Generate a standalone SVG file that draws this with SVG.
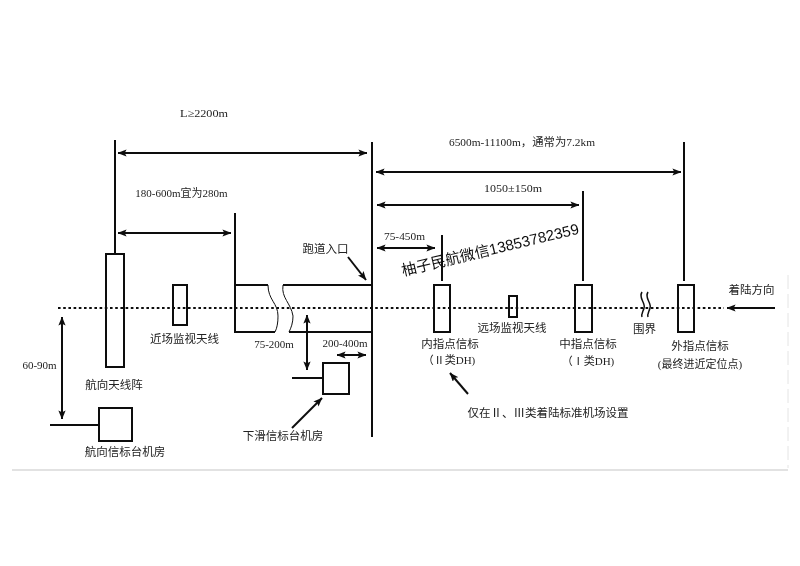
<svg xmlns="http://www.w3.org/2000/svg" width="800" height="566" viewBox="0 0 800 566">
<defs>
<marker id="a" viewBox="0 0 10 8" refX="9.5" refY="4" markerUnits="userSpaceOnUse" markerWidth="9" markerHeight="7.200" orient="auto-start-reverse"><path d="M0 0L10 4L0 8L2 4Z" fill="#111"/></marker>
<filter id="soft" x="-5%" y="-5%" width="110%" height="110%"><feGaussianBlur stdDeviation="0.35"/></filter>
</defs>
<style>
.l{stroke:#111;stroke-width:2;fill:none}
.b{stroke:#111;stroke-width:2;fill:none}
.d{marker-start:url(#a);marker-end:url(#a)}
.e{marker-end:url(#a)}
text{font-family:"Liberation Serif","Noto Sans CJK SC",serif;font-size:11px;fill:#222;text-anchor:middle}
.c{font-size:11.5px}
</style>
<rect width="800" height="566" fill="#fff"/>
<g filter="url(#soft)">
<g id="frame"><path d="M12 470H788" stroke="#d8d8d8" stroke-width="1.5" fill="none"/><path d="M788 275V468" stroke="#e4e4e4" stroke-width="1" stroke-dasharray="14 5" fill="none"/></g>
<g id="connectors">
<path class="l" d="M58 308H724" stroke-dasharray="2.6 2.6"/>
<path class="l e" d="M775 308H727"/>
<path class="l" d="M115 140V254"/>
<path class="l" d="M372 142V437"/>
<path class="l" d="M235 213V285"/>
<path class="l" d="M442 235V281"/>
<path class="l" d="M583 191V281"/>
<path class="l" d="M684 142V281"/>
<path class="l d" d="M118 153H367"/>
<path class="l d" d="M118 233H231"/>
<path class="l d" d="M376 172H681"/>
<path class="l d" d="M377 205H579"/>
<path class="l d" d="M377 248H435"/>
<path class="l d" d="M62 317V419"/>
<path class="l d" d="M307 315V370"/>
<path class="l d" d="M337 355H366"/>
<path class="l" d="M50 425H99"/>
<path class="l" d="M292 378H323"/>
<path class="l e" d="M348 257L366 280"/>
<path class="l e" d="M292 428L322 398"/>
<path class="l e" d="M468 394L450 373"/>
</g>
<g id="antenna-array"><rect class="b" x="106" y="254" width="18" height="113"/><text class="c" x="114" y="389">航向天线阵</text></g>
<g id="localizer-room"><rect class="b" x="99" y="408" width="33" height="33"/><text class="c" x="125" y="456">航向信标台机房</text></g>
<g id="near-monitor"><rect class="b" x="173" y="285" width="14" height="40"/><text class="c" x="184.500" y="343">近场监视天线</text></g>
<g id="runway">
<path class="l" d="M268 285H235V332H275"/>
<path class="l" d="M283 285H372M289 332H372"/>
<path stroke="#111" stroke-width="1" fill="none" d="M268 285C268 300 278 303 278 316C278 323 277 328 275 332"/>
<path stroke="#111" stroke-width="1" fill="none" d="M283 285C281 298 291 303 293 316C293 323 291 328 289 332"/>
<text class="c" x="325.500" y="253">跑道入口</text>
</g>
<g id="glide-room"><rect class="b" x="323" y="363" width="26" height="31"/><text class="c" x="283" y="440">下滑信标台机房</text></g>
<g id="inner-marker"><rect class="b" x="434" y="285" width="16" height="47"/><text class="c" x="450" y="348">内指点信标</text><text x="449" y="364">（Ⅱ类DH)</text></g>
<g id="far-monitor"><rect class="b" x="509" y="296" width="8" height="21"/><text class="c" x="512" y="332">远场监视天线</text></g>
<g id="middle-marker"><rect class="b" x="575" y="285" width="17" height="47"/><text class="c" x="588" y="348">中指点信标</text><text x="588" y="365">（Ⅰ类DH)</text></g>
<g id="fence"><path stroke="#111" stroke-width="1.5" fill="none" d="M642 292C638 298 646 303 644 308C643 312 641 314 642 317M648 292C644 298 652 303 650 308C649 312 647 314 648 317"/><text class="c" x="644.500" y="333">围界</text></g>
<g id="outer-marker"><rect class="b" x="678" y="285" width="16" height="47"/><text class="c" x="700" y="350">外指点信标</text><text x="700" y="368">(最终进近定位点)</text></g>
<g id="labels">
<text x="204" y="117" textLength="48" lengthAdjust="spacingAndGlyphs">L≥2200m</text>
<text x="181.500" y="197">180-600m宜为280m</text>
<text x="274" y="348">75-200m</text>
<text x="345" y="347">200-400m</text>
<text x="39.500" y="369">60-90m</text>
<text x="522" y="146" textLength="146" lengthAdjust="spacingAndGlyphs">6500m-11100m，通常为7.2km</text>
<text x="513" y="192" textLength="58" lengthAdjust="spacingAndGlyphs">1050±150m</text>
<text x="404.500" y="240" textLength="41" lengthAdjust="spacingAndGlyphs">75-450m</text>
<text class="c" x="751.500" y="294">着陆方向</text>
<text class="c" x="548" y="417">仅在Ⅱ、Ⅲ类着陆标准机场设置</text>
</g>
<text id="watermark" transform="translate(403 276) rotate(-13.500)" style="font-family:'Liberation Sans','Noto Sans CJK SC',sans-serif;font-size:15px;fill:#111;text-anchor:start">柚子民航微信13853782359</text>
</g>
</svg>
